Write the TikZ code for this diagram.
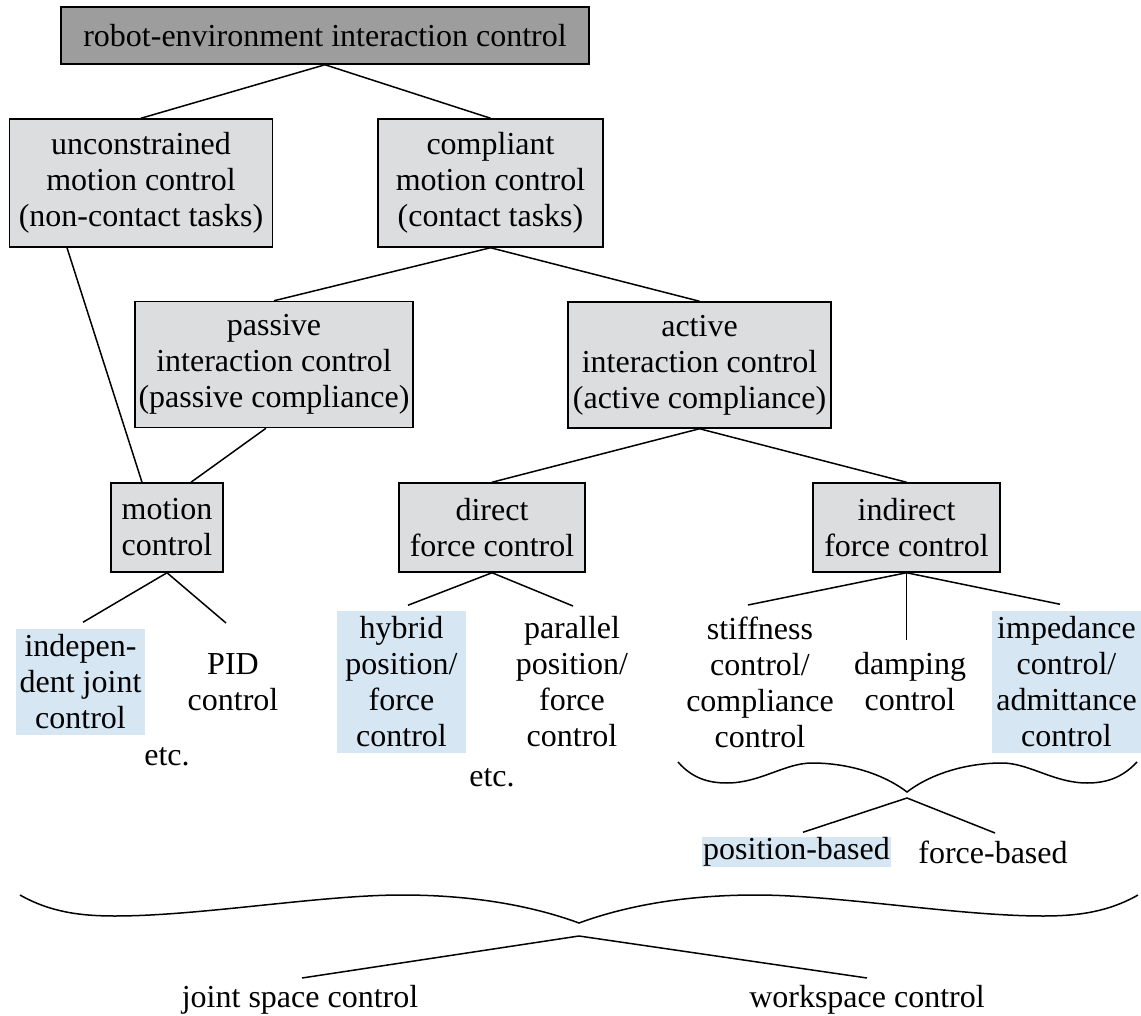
\documentclass[tikz,border=0pt]{standalone}
\usepackage{fontspec}
\setmainfont{Liberation Serif}
\usetikzlibrary{calc}

\tikzset{
  box/.style={draw, fill={rgb, 255:red, 220; green, 221; blue, 223 }, align=center, inner sep=0pt},
  rootbox/.style={box, fill={rgb, 255:red, 157; green, 157; blue, 157 }},
  leaf/.style={align=center, inner xsep=2pt, inner ysep=0pt},
  hilite/.style={leaf, fill={rgb, 255:red, 214; green, 230; blue, 243 }},
}

\begin{document}
\begin{tikzpicture}[x=0.5pt,y=0.5pt,yscale=-1,xscale=1,line width=0.75pt,font=\fontsize{16}{18}\selectfont]
\useasboundingbox (0,0) rectangle (1141,1016);

%Shape: Rectangle
\node[rootbox, minimum width=264pt, minimum height=28.5pt] (root) at (325,35.5) {robot-environment interaction control};
\node[box, minimum width=131.5pt, minimum height=64pt] (unc) at (141,183) {unconstrained\\motion control\\(non-contact tasks)};
\node[box, minimum width=112.5pt, minimum height=64pt] (comp) at (490.5,183) {compliant\\motion control\\(contact tasks)};
\node[box, minimum width=139pt, minimum height=63pt] (passive) at (274,364.5) {passive\\interaction control\\(passive compliance)};
\node[box, minimum width=131.5pt, minimum height=63pt] (active) at (699.5,365) {active\\interaction control\\(active compliance)};
\node[box, minimum width=56pt, minimum height=44.5pt] (motion) at (167,527.5) {motion\\control};
\node[box, minimum width=93pt, minimum height=44.5pt] (direct) at (492,527.5) {direct\\force control};
\node[box, minimum width=93.5pt, minimum height=44.5pt] (indirect) at (906.5,527.5) {indirect\\force control};

%Text
\node[hilite, minimum width=64.5pt, minimum height=53pt] (indep) at (80.5,682) {indepen-\\dent joint\\control};
\node[leaf] (pid) at (233,682) {PID\\control};
\node[hilite, minimum width=64.5pt, minimum height=71pt] (hybrid) at (401.5,682) {hybrid\\position/\\force\\control};
\node[leaf] (parallel) at (572,682) {parallel\\position/\\force\\control};
\node[leaf] (stiff) at (760,682) {stiffness\\control/\\compliance\\control};
\node[leaf] (damp) at (910,682) {damping\\control};
\node[hilite, minimum width=74.5pt, minimum height=71pt] (imped) at (1066.5,682) {impedance\\control/\\admittance\\control};
\node[leaf] (etcA) at (167,757) {etc.};
\node[leaf] (etcB) at (492,778) {etc.};
\node[hilite, minimum width=94.5pt, minimum height=15pt, inner xsep=0pt] (posb) at (796.5,852) {position-based};
\node[leaf] (forceb) at (993,852) {force-based};
\node[leaf] (joint) at (300,1000) {joint space control};
\node[leaf] (work) at (867,1000) {workspace control};

%Straight Lines
\draw (root.south) -- (unc.north);
\draw (root.south) -- (comp.north);
\draw (comp.south) -- (passive.north);
\draw (comp.south) -- (active.north);
\draw ($(unc.south)+(-74,0)$) -- ($(motion.north)+(-25,0)$);
\draw ($(passive.south)+(-8,0)$) -- ($(motion.north)+(24,0)$);
\draw (active.south) -- (direct.north);
\draw (active.south) -- (indirect.north);
%Straight Lines
\draw (motion.south) -- ($(indep.north)+(2.5,-6)$);
\draw (motion.south) -- ($(pid)+(-7,-59)$);
\draw (direct.south) -- ($(hybrid.north)+(6.5,-5)$);
\draw (direct.south) -- ($(parallel)+(1,-76)$);
\draw (indirect.south) -- ($(stiff)+(-12,-77)$);
\draw (indirect.south) -- ($(damp)+(-3.5,-42)$);
\draw (indirect.south) -- ($(imped.north)+(-6.5,-6)$);

%Curve Lines
\draw (678,762) .. controls (692,778) and (708,783) .. (727,783) .. controls (760,783) and (785,763) .. (812,763) .. controls (850,763) and (885,775) .. (907,792) .. controls (929,775) and (964,763) .. (1002,763) .. controls (1029,763) and (1054,783) .. (1087,783) .. controls (1106,783) and (1122,778) .. (1137,762);
\coordinate (smalltip) at (907,798);
\draw (smalltip) -- ($(posb.north)+(6.5,-4)$);
\draw (smalltip) -- ($(forceb)+(2,-19)$);

%Curve Lines
\draw (20,895) .. controls (50,912) and (80,916) .. (115,916) .. controls (200,916) and (320,895) .. (402,895) .. controls (470,895) and (530,905) .. (579,923) .. controls (628,905) and (688,895) .. (756,895) .. controls (838,895) and (958,916) .. (1043,916) .. controls (1078,916) and (1108,912) .. (1138,895);
\coordinate (bigtip) at (579,936);
\draw (bigtip) -- ($(joint)+(2,-22)$);
\draw (bigtip) -- ($(work)+(0,-22)$);

\end{tikzpicture}
\end{document}
